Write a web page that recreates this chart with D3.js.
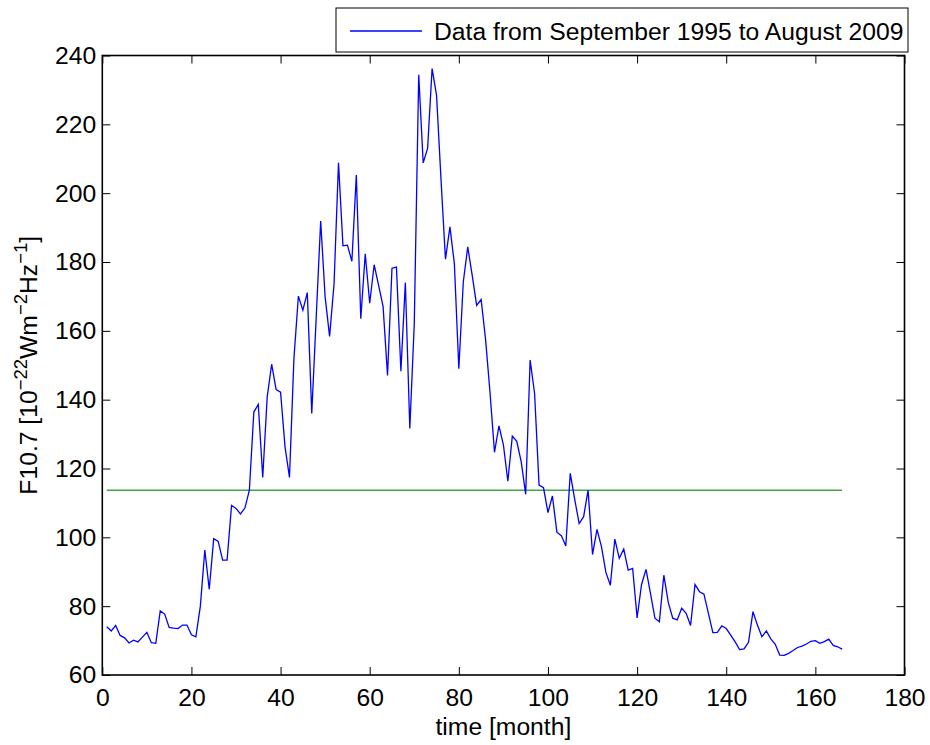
<!DOCTYPE html>
<html>
<head>
<meta charset="utf-8">
<script src="https://cdn.jsdelivr.net/npm/d3@7"></script>
<style>
  html, body { margin: 0; padding: 0; background: #fff; }
  svg { display: block; font-family: "Liberation Sans", Arial, Helvetica, sans-serif; }
</style>
</head>
<body>
<svg id="chart" width="930" height="745"></svg>
<script>
// Monthly mean solar radio flux F10.7, Sep 1995 - Aug 2009
const f107 = [
  74.0, 72.8, 74.4, 71.5, 70.8, 69.3, 70.1, 69.6, 71.0, 72.4,
  69.4, 69.2, 78.6, 77.7, 73.8, 73.6, 73.5, 74.5, 74.5, 71.7,
  71.1, 80.0, 96.3, 84.9, 99.6, 98.8, 93.4, 93.4, 109.3, 108.4,
  106.8, 108.5, 113.7, 136.4, 138.6, 117.4, 140.8, 150.3, 142.9, 142.2,
  126.3, 117.4, 152.0, 170.1, 166.0, 171.1, 136.0, 164.0, 191.9, 169.8,
  158.4, 173.7, 208.8, 184.7, 184.9, 180.2, 205.3, 163.5, 182.4, 168.0,
  179.2, 173.2, 167.1, 147.0, 178.2, 178.5, 148.3, 174.0, 131.6, 162.0,
  234.4, 208.8, 213.1, 236.2, 228.4, 204.0, 180.8, 190.2, 179.5, 149.0,
  174.2, 184.4, 176.1, 167.4, 169.1, 157.5, 142.0, 124.7, 132.4, 126.9,
  116.3, 129.4, 127.9, 121.9, 112.5, 151.5, 141.8, 115.2, 114.4, 107.2,
  112.0, 101.5, 100.5, 97.5, 118.6, 111.0, 104.0, 106.0, 113.7, 95.0,
  102.3, 97.3, 89.8, 86.1, 99.5, 93.9, 96.6, 90.5, 91.0, 76.6,
  86.3, 90.7, 83.7, 76.5, 75.5, 89.0, 81.0, 76.5, 76.0, 79.4,
  77.9, 74.4, 86.3, 84.2, 83.5, 77.9, 72.3, 72.4, 74.3, 73.5,
  71.6, 69.6, 67.4, 67.6, 69.5, 78.4, 74.5, 71.1, 72.8, 70.5,
  68.9, 65.8, 65.7, 66.3, 67.1, 68.0, 68.4, 69.0, 69.8, 70.0,
  69.2, 69.7, 70.4, 68.6, 68.2, 67.5
];
// Month index for each value (1 = September 1995)
const months = f107.map((_, i) => i + 1);
// Average flux level over the whole period
const meanLevel = 113.7;

const xTicks = [0, 20, 40, 60, 80, 100, 120, 140, 160, 180];
const yTicks = [60, 80, 100, 120, 140, 160, 180, 200, 220, 240];
const legendLabel = "Data from September 1995 to August 2009";

const box = { left: 102.3, right: 904.5, top: 55.5, bottom: 675 };
const svg = d3.select("#chart");

const x = d3.scaleLinear().domain([0, 180]).range([box.left, box.right]);
const y = d3.scaleLinear().domain([60, 240]).range([box.bottom, box.top]);

const fontSize = 24.7;
const tickLen = 8;

// Axes with inward ticks on all four sides
const axisBottom = d3.axisBottom(x).tickValues(xTicks).tickSize(-tickLen).tickPadding(13).tickFormat(d3.format("d"));
const axisTop = d3.axisTop(x).tickValues(xTicks).tickSize(-tickLen).tickFormat("");
const axisLeft = d3.axisLeft(y).tickValues(yTicks).tickSize(-tickLen).tickPadding(6).tickFormat(d3.format("d"));
const axisRight = d3.axisRight(y).tickValues(yTicks).tickSize(-tickLen).tickFormat("");

function styleAxis(g) {
  g.select(".domain").remove();
  g.selectAll(".tick line").attr("stroke", "#000").attr("stroke-width", 1);
  g.selectAll(".tick text").attr("fill", "#000").attr("font-size", fontSize)
    .attr("font-family", "\"Liberation Sans\", Arial, sans-serif");
}

svg.append("g").attr("transform", `translate(0,${box.bottom})`).call(axisBottom).call(styleAxis);
svg.append("g").attr("transform", `translate(0,${box.top})`).call(axisTop).call(styleAxis);
svg.append("g").attr("transform", `translate(${box.left},0)`).call(axisLeft).call(styleAxis);
svg.append("g").attr("transform", `translate(${box.right},0)`).call(axisRight).call(styleAxis);

// Plot frame
svg.append("rect")
  .attr("x", box.left).attr("y", box.top)
  .attr("width", box.right - box.left).attr("height", box.bottom - box.top)
  .attr("fill", "none").attr("stroke", "#000").attr("stroke-width", 1.6);

// Mean level
svg.append("line")
  .attr("x1", x(months[0])).attr("x2", x(months[months.length - 1]))
  .attr("y1", y(meanLevel)).attr("y2", y(meanLevel))
  .attr("stroke", "#45a545").attr("stroke-width", 1.6);

// Flux series
const line = d3.line().x((d, i) => x(months[i])).y(d => y(d));
svg.append("path")
  .datum(f107)
  .attr("d", line)
  .attr("fill", "none")
  .attr("stroke", "#0000ff")
  .attr("stroke-width", 1.3)
  .attr("stroke-linejoin", "miter");

// Axis titles
svg.append("text")
  .attr("x", (box.left + box.right) / 2).attr("y", 735)
  .attr("text-anchor", "middle").attr("font-size", fontSize)
  .text("time [month]");

const yTitle = svg.append("text")
  .attr("transform", `translate(37,${(box.top + box.bottom) / 2}) rotate(-90)`)
  .attr("text-anchor", "middle").attr("font-size", fontSize);
const parts = [
  { t: "F10.7 [10", sup: false },
  { t: "\u221222", sup: true },
  { t: "Wm", sup: false },
  { t: "\u22122", sup: true },
  { t: "Hz", sup: false },
  { t: "\u22121", sup: true },
  { t: "]", sup: false }
];
let raised = false;
parts.forEach(p => {
  const ts = yTitle.append("tspan").text(p.t);
  if (p.sup && !raised) { ts.attr("dy", -10).attr("font-size", 18.5); raised = true; }
  else if (p.sup) { ts.attr("font-size", 18.5); }
  else if (raised) { ts.attr("dy", 10); raised = false; }
});

// Legend
const legend = svg.append("g");
legend.append("rect")
  .attr("x", 336).attr("y", 8).attr("width", 572).attr("height", 44)
  .attr("fill", "#fff").attr("stroke", "#000").attr("stroke-width", 1);
legend.append("line")
  .attr("x1", 350).attr("x2", 422).attr("y1", 31).attr("y2", 31)
  .attr("stroke", "#0000ff").attr("stroke-width", 1.3);
legend.append("text")
  .attr("x", 434).attr("y", 40).attr("font-size", fontSize)
  .text(legendLabel);
</script>
</body>
</html>
